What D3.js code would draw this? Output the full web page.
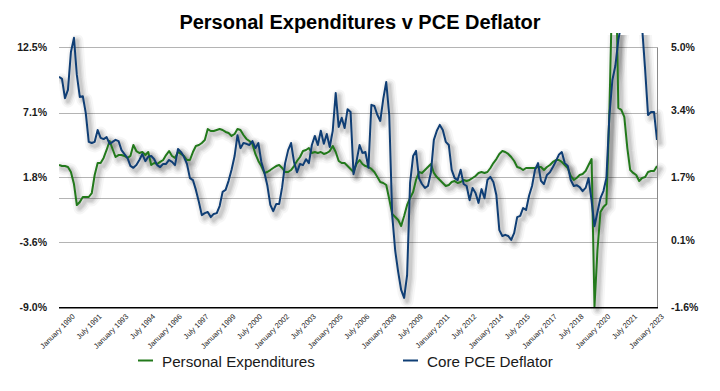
<!DOCTYPE html>
<html>
<head>
<meta charset="utf-8">
<script src="https://cdn.jsdelivr.net/npm/d3@7"></script>
<style>
  html, body { margin: 0; padding: 0; background: #ffffff; }
  svg { display: block; font-family: "Liberation Sans", Arial, Helvetica, sans-serif; }
</style>
</head>
<body>
<svg id="chart" width="720" height="391"></svg>
<script>
// ---------------- DATA ----------------
const chartTitle = "Personal Expenditures v PCE Deflator";
const seriesNames = ["Personal Expenditures", "Core PCE Deflator"];
// Observations every two months, starting April 1989
const firstMonth = "1989-04";
const stepMonths = 2;

// Personal Expenditures, % (left axis)
const personalExpenditures = [
 2.77,2.68,2.68,2.60,2.19,1.20,-0.54,-0.29,0.12,0.12,
 0.12,0.45,1.94,2.93,2.93,3.35,4.01,4.75,4.09,3.43,
 3.59,3.59,3.51,3.35,3.51,4.42,3.92,3.76,3.84,3.59,
 3.84,2.77,2.93,2.85,3.02,3.18,3.59,3.92,3.51,3.35,
 3.84,3.68,3.51,3.18,3.18,3.84,4.34,4.42,4.59,4.83,
 5.74,5.58,5.58,5.66,5.74,5.66,5.50,5.41,5.17,5.33,
 5.74,5.66,5.25,4.92,4.75,4.50,3.68,3.10,2.68,2.11,
 2.19,2.35,2.52,2.68,2.77,2.52,2.19,2.19,2.35,2.68,
 3.10,3.43,3.92,4.01,4.17,3.76,3.84,3.76,3.84,3.68,
 3.76,3.92,4.34,3.84,3.10,2.93,2.93,2.68,2.44,2.19,
 2.85,3.18,2.85,2.68,2.60,2.44,2.19,1.77,1.36,1.28,
 1.11,-0.04,-1.29,-1.53,-1.78,-2.28,-1.45,-0.54,0.04,0.53,
 1.53,2.19,2.11,2.35,2.60,2.85,2.11,1.77,1.53,1.28,
 1.03,1.11,1.36,1.44,1.28,1.36,1.53,1.44,1.53,1.69,
 1.86,2.11,2.19,2.11,2.19,2.52,2.93,3.26,3.68,3.92,
 3.84,3.68,3.43,3.10,2.60,2.52,2.35,2.52,2.52,2.52,
 2.52,2.60,2.60,2.35,2.60,2.77,3.02,3.18,3.18,3.02,
 2.77,2.52,1.86,1.53,1.69,1.94,2.02,2.27,2.77,3.26,
 -8.95,-4.26,-1.12,-0.71,-0.46,7.32,18.0,22.0,7.48,7.32,
 6.74,4.17,2.35,2.11,1.94,1.44,1.69,1.77,2.19,2.27,
 2.27,2.68
];

// Core PCE Deflator, % (right axis)
const corePceDeflator = [
 4.25,4.20,3.71,3.92,4.88,5.24,4.30,3.74,3.76,3.33,
 2.60,2.57,2.60,2.90,2.70,2.67,2.72,2.55,2.60,2.65,
 2.62,2.39,2.29,2.19,1.99,1.94,2.01,2.14,2.29,2.11,
 2.22,2.24,2.16,2.01,1.96,2.04,2.04,2.14,2.09,2.01,
 2.42,2.34,2.22,2.04,1.68,1.63,1.38,1.07,0.74,0.79,
 0.82,0.69,0.77,0.79,0.97,1.33,1.38,1.61,1.89,2.24,
 2.77,2.44,2.57,2.55,2.52,2.62,2.44,2.57,2.09,1.83,
 1.50,1.00,0.84,1.02,1.02,1.45,2.06,2.39,2.57,2.09,
 1.83,2.04,2.01,2.16,2.06,2.52,2.75,2.52,2.88,2.55,
 2.80,2.47,2.88,3.84,2.98,3.21,2.95,3.43,3.36,1.78,
 2.11,2.52,2.32,2.34,1.94,3.54,3.51,3.28,3.13,3.69,
 4.12,3.28,0.74,-0.17,-0.70,-1.16,-1.36,-0.78,1.56,2.24,
 2.37,1.68,1.53,1.43,1.48,1.83,2.65,2.88,3.03,2.90,
 2.60,2.52,1.89,1.68,1.63,1.89,1.53,1.48,1.12,1.43,
 1.30,1.05,1.40,1.17,1.63,1.71,1.58,1.25,0.36,0.21,
 0.24,0.21,0.11,0.29,0.69,0.72,0.92,0.87,1.23,1.48,
 1.89,2.06,1.61,1.53,1.76,1.83,1.96,2.11,2.27,2.34,
 2.06,1.99,1.63,1.48,1.50,1.45,1.35,1.43,1.68,1.10,
 0.46,0.82,1.17,1.35,1.68,3.28,4.17,4.53,5.19,5.6,
 5.9,6.1,6.2,6.1,6.0,5.8,5.5,4.42,3.28,3.36,
 3.36,2.65
];

// Axis ticks
const leftTicks = [-9.0, -3.6, 1.8, 7.1, 12.5];
const leftTickLabels = ["-9.0%", "-3.6%", "1.8%", "7.1%", "12.5%"];
const rightTicks = [-1.6, 0.1, 1.7, 3.4, 5.0];
const rightTickLabels = ["-1.6%", "0.1%", "1.7%", "3.4%", "5.0%"];
const xTickLabels = [
 "January 1990","July 1991","January 1993","July 1994","January 1996","July 1997",
 "January 1999","July 2000","January 2002","July 2003","January 2005","July 2006",
 "January 2008","July 2009","January 2011","July 2012","January 2014","July 2015",
 "January 2017","July 2018","January 2020","July 2021","January 2023"
];

// ---------------- CHART ----------------
const colors = { pe: "#22791b", core: "#0f3e75" };
const svg = d3.select("#chart");
const W = 720, H = 391;
const plot = { left: 59, right: 657, top: 47.3, bottom: 307.3, clipTop: 33 };

const parseMonth = d3.timeParse("%Y-%m");
const start = parseMonth(firstMonth);
const dates = personalExpenditures.map((_, i) => d3.timeMonth.offset(start, i * stepMonths));

const x = d3.scaleTime()
  .domain([dates[0], dates[dates.length - 1]])
  .range([plot.left, plot.right]);
const yL = d3.scaleLinear().domain([-9.0, 12.5]).range([plot.bottom, plot.top]);
const yR = d3.scaleLinear().domain([-1.6, 5.0]).range([plot.bottom, plot.top]);

const defs = svg.append("defs");
defs.append("clipPath").attr("id", "plotClip")
  .append("rect")
  .attr("x", plot.left).attr("y", plot.clipTop)
  .attr("width", plot.right - plot.left)
  .attr("height", plot.bottom - plot.clipTop + 1);
defs.append("clipPath").attr("id", "shadowClip")
  .append("rect")
  .attr("x", plot.left).attr("y", plot.clipTop + 2)
  .attr("width", plot.right - plot.left + 10)
  .attr("height", plot.bottom - plot.clipTop + 8);

// Title
svg.append("text")
  .attr("x", W / 2).attr("y", 29)
  .attr("text-anchor", "middle")
  .attr("font-size", 20).attr("font-weight", "bold").attr("fill", "#000")
  .text(chartTitle);

// Gridlines (at left-axis ticks plus the zero line)
const gridVals = leftTicks.slice(1).concat([0]);
svg.append("g").selectAll("line").data(gridVals).join("line")
  .attr("x1", plot.left).attr("x2", plot.right)
  .attr("y1", d => Math.round(yL(d)) + 0.5).attr("y2", d => Math.round(yL(d)) + 0.5)
  .attr("stroke", "#b4b4b4").attr("stroke-width", 1);

// Left axis labels
const leftAxis = d3.axisLeft(yL).tickValues(leftTicks)
  .tickFormat((d, i) => leftTickLabels[i]).tickSize(0).tickPadding(12);
const gL = svg.append("g").attr("transform", `translate(${plot.left},0)`).call(leftAxis);
gL.select(".domain").remove();
gL.selectAll("text").attr("font-size", 10.5).attr("font-weight", "bold")
  .attr("fill", "#1a1a1a").attr("font-family", '"Liberation Sans", Arial, sans-serif');

// Right axis labels
const rightAxis = d3.axisRight(yR).tickValues(rightTicks)
  .tickFormat((d, i) => rightTickLabels[i]).tickSize(0).tickPadding(14);
const gR = svg.append("g").attr("transform", `translate(${plot.right},0)`).call(rightAxis);
gR.select(".domain").remove();
gR.selectAll("text").attr("font-size", 10.5).attr("font-weight", "bold")
  .attr("fill", "#1a1a1a").attr("font-family", '"Liberation Sans", Arial, sans-serif');

// Line generators
const lineL = d3.line().x((d, i) => x(dates[i])).y(d => yL(d));
const lineR = d3.line().x((d, i) => x(dates[i])).y(d => yR(d));

// Soft shadows: stacked translucent wide strokes, offset down-right
const shadowLayers = [
  { w: 13, o: 0.035 }, { w: 9, o: 0.05 }, { w: 6, o: 0.06 }, { w: 3.5, o: 0.07 }
];
const gShadow = svg.append("g").attr("clip-path", "url(#shadowClip)");
const gShadowInner = gShadow.append("g").attr("transform", "translate(3,3)");
[[personalExpenditures, lineL], [corePceDeflator, lineR]].forEach(([data, gen]) => {
  shadowLayers.forEach(s => {
    gShadowInner.append("path").datum(data)
      .attr("d", gen).attr("fill", "none")
      .attr("stroke", "#000").attr("stroke-opacity", s.o)
      .attr("stroke-width", s.w)
      .attr("stroke-linejoin", "round").attr("stroke-linecap", "round");
  });
});

// Right axis line
svg.append("line")
  .attr("x1", plot.right + 0.5).attr("x2", plot.right + 0.5)
  .attr("y1", plot.top).attr("y2", plot.bottom)
  .attr("stroke", "#8a8a8a").attr("stroke-width", 1);

// Series lines
const gLines = svg.append("g").attr("clip-path", "url(#plotClip)");
gLines.append("path").datum(personalExpenditures)
  .attr("d", lineL).attr("fill", "none")
  .attr("stroke", colors.pe).attr("stroke-width", 2)
  .attr("stroke-linejoin", "round");
gLines.append("path").datum(corePceDeflator)
  .attr("d", lineR).attr("fill", "none")
  .attr("stroke", colors.core).attr("stroke-width", 2)
  .attr("stroke-linejoin", "round");

// Bottom axis line
svg.append("line")
  .attr("x1", plot.left).attr("x2", plot.right + 1)
  .attr("y1", plot.bottom + 0.5).attr("y2", plot.bottom + 0.5)
  .attr("stroke", "#000").attr("stroke-width", 1.5);

// X tick labels (every 18 months from January 1990)
const jan1990 = parseMonth("1990-01");
const xTickDates = xTickLabels.map((_, i) => d3.timeMonth.offset(jan1990, i * 18));
svg.append("g").selectAll("text").data(xTickDates).join("text")
  .attr("transform", d => `translate(${x(d) + 3},317) rotate(-45)`)
  .attr("text-anchor", "end")
  .attr("font-size", 7.5).attr("fill", "#222")
  .text((d, i) => xTickLabels[i]);

// Legend
const legend = [
  { name: seriesNames[0], color: colors.pe, x: 138 },
  { name: seriesNames[1], color: colors.core, x: 403 }
];
const lg = svg.append("g").selectAll("g").data(legend).join("g");
lg.append("line")
  .attr("x1", d => d.x).attr("x2", d => d.x + 15)
  .attr("y1", 360.5).attr("y2", 360.5)
  .attr("stroke", d => d.color).attr("stroke-width", 2);
lg.append("text")
  .attr("x", d => d.x + 24).attr("y", 366.5)
  .attr("font-size", 15.2).attr("fill", "#1a1a1a")
  .text(d => d.name);
</script>
</body>
</html>
